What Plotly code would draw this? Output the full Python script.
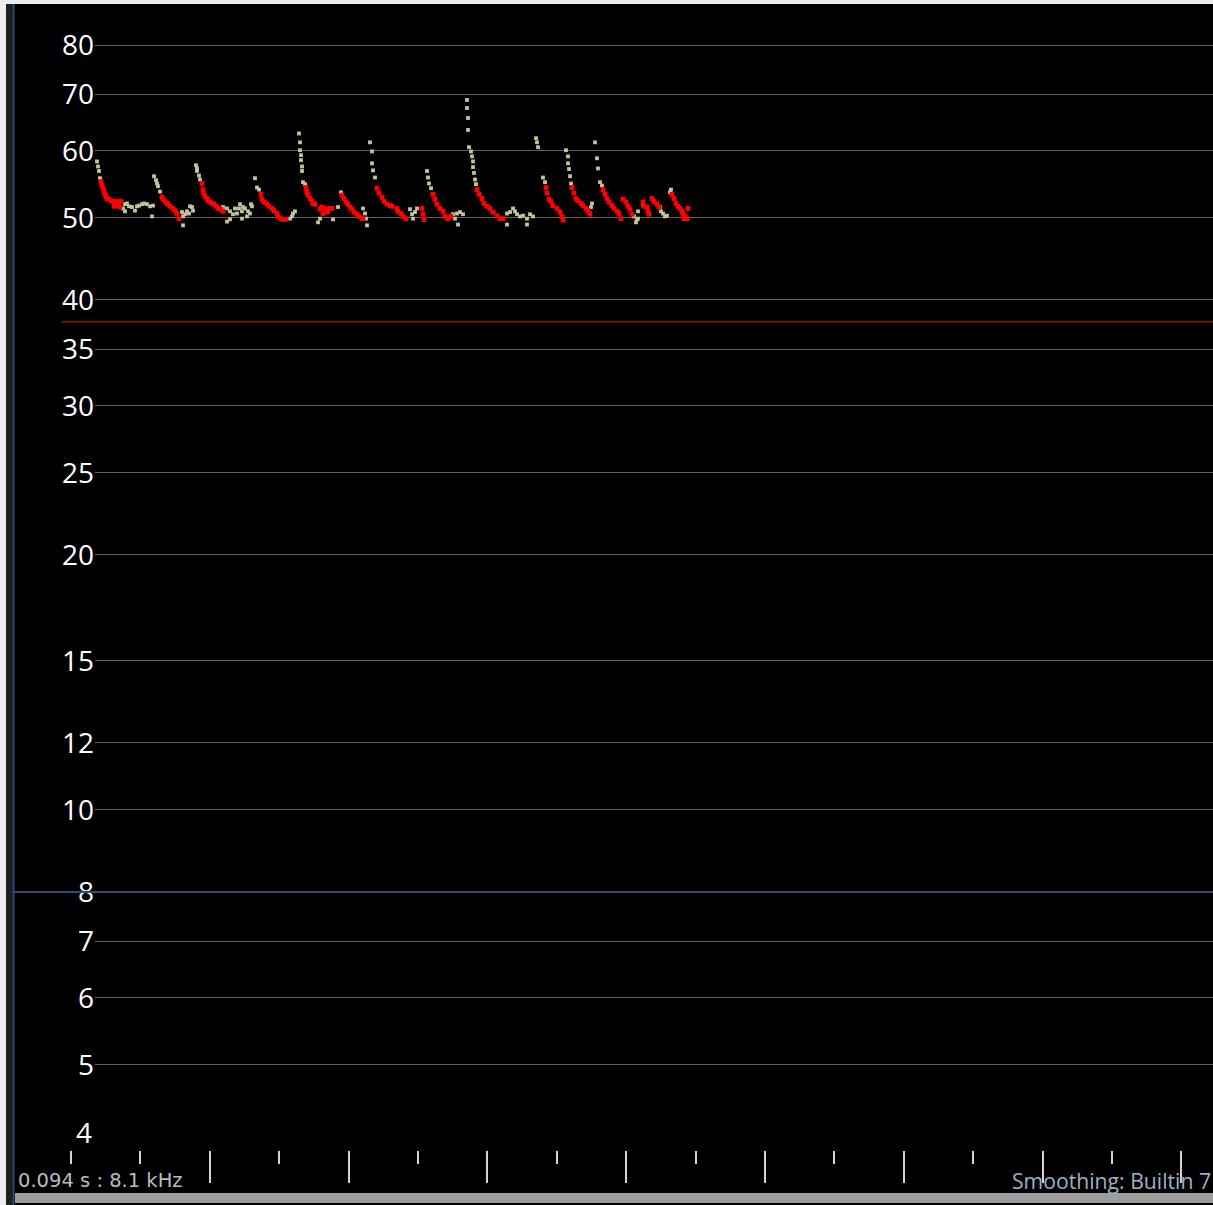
import plotly.graph_objects as go

# ---- pitch-track samples: time (ms from first ruler tick) and value ----
tan_t = [26, 27, 28, 29, 52, 54, 54, 56, 58, 61, 64, 66, 68, 71, 73, 76, 79, 81, 82,
         83, 85, 86, 87, 89, 111, 112, 114, 116, 118, 121, 122, 112, 119,
         125, 126, 126, 128, 129, 152, 156, 156, 159, 162, 164, 166, 168, 171, 172, 169, 174, 177, 180, 176, 171, 159, 179, 181,
         184, 186, 188, 219, 221, 222, 224,
         228, 229, 229, 230, 230, 231, 231, 232, 234, 247, 249, 262, 267,
         270, 294, 295, 296, 292,
         299, 301, 301, 302, 304, 339, 341, 344, 346, 342,
         356, 357, 358, 360, 382, 386, 389, 392, 387, 384,
         396, 396, 397, 397, 398, 400, 401, 402, 402, 403, 404, 405, 436, 439, 442, 446, 449, 452, 456, 459, 462, 456, 436, 444,
         465, 466, 467, 472, 474,
         495, 497, 497, 498, 499, 500, 521, 520,
         524, 526, 527, 529, 531,
         563, 566, 567, 567, 565,
         572,
         589, 590, 592, 594, 596,
         600, 599]
tan_v = [58.3, 57.5, 56.8, 55.7, 51.3, 51.9, 50.9, 52.0, 51.6, 51.5, 51.0, 51.6, 51.7, 51.9, 52.0, 51.9, 51.6, 50.2, 51.7,
         56.0, 55.4, 54.9, 54.5, 53.7, 50.8, 50.2, 50.5, 50.9, 50.6, 51.5, 51.0, 49.0, 51.6,
         57.7, 57.2, 56.8, 56.1, 55.5, 51.5, 51.3, 49.5, 50.9, 50.5, 51.3, 50.6, 51.3, 50.9, 51.5, 51.9, 51.3, 50.9, 51.9, 50.2, 49.9, 49.8, 50.6, 51.6,
         55.7, 54.3, 54.0, 49.9, 50.2, 50.6, 50.9,
         62.9, 61.4, 60.1, 59.3, 58.5, 57.5, 56.8, 55.1, 54.8, 49.4, 49.9, 49.8, 51.5,
         53.6, 50.6, 49.9, 49.0, 51.3,
         61.4, 59.9, 58.0, 56.9, 55.8, 51.2, 50.5, 50.8, 51.3, 49.9,
         56.8, 55.8, 54.9, 54.2, 50.5, 50.6, 50.8, 50.5, 49.1, 49.9,
         68.9, 67.4, 65.6, 63.5, 60.6, 59.9, 59.1, 58.3, 57.4, 56.5, 55.5, 54.8, 50.6, 50.8, 51.3, 50.5, 50.2, 50.3, 49.9, 50.5, 50.2, 49.1, 49.1, 50.9,
         62.1, 61.4, 60.6, 55.8, 55.1,
         60.1, 59.1, 58.0, 57.1, 56.0, 54.9, 52.0, 51.5,
         61.4, 58.8, 57.2, 55.1, 54.6,
         50.2, 49.8, 49.9, 50.9, 49.4,
         51.9,
         51.5, 50.9, 50.6, 50.2, 50.3,
         54.0, 53.6]

red_t = [30, 31, 32, 33, 34, 35, 36, 38, 40, 42, 44, 46, 48, 50, 45, 47, 49, 43,
         91, 92, 94, 96, 97, 99, 102, 104, 106, 108,
         131, 132, 132.5, 134, 136, 137, 139, 141, 143, 145, 147, 150, 152,
         190, 191, 193, 196, 198, 201, 203, 206, 207, 210, 212, 215,
         235, 236, 237, 239, 241, 242, 244, 249, 251, 254, 257, 259, 261, 252, 256,
         271, 273, 275, 277, 279, 281, 283, 286, 288, 291, 292,
         306, 308, 311, 313, 316, 319, 321, 326, 327, 330, 332, 335, 351, 352, 353,
         362, 364, 366, 369, 372, 374, 377, 380,
         406, 408, 411, 413, 416, 419, 422, 426, 429, 432,
         475, 476, 478, 480, 482, 486, 489, 491, 492,
         501, 503, 505, 507, 510, 512, 515, 517, 519,
         532, 534, 536, 538, 541, 543, 546, 548, 550,
         552, 555, 557, 559, 561,
         572, 573, 576, 577, 578,
         581, 583, 586, 588,
         601, 603, 605, 607, 609, 611, 612, 614, 616, 617, 613]
red_v = [55.2, 54.6, 54.2, 53.7, 53.3, 53.0, 52.7, 52.6, 52.4, 52.3, 52.2, 52.2, 52.3, 52.3, 51.9, 51.7, 51.5, 51.6,
         52.9, 52.6, 52.3, 52.0, 51.9, 51.6, 51.3, 51.0, 50.6, 49.9,
         54.9, 54.0, 53.5, 53.0, 52.7, 52.4, 52.2, 52.0, 51.9, 51.6, 51.3, 51.2, 50.9,
         53.3, 52.6, 52.2, 51.9, 51.6, 51.3, 51.0, 50.6, 50.2, 49.9, 49.8, 49.8,
         54.3, 53.6, 53.2, 52.7, 52.4, 52.0, 51.9, 51.2, 51.5, 51.3, 50.9, 51.3, 51.3, 50.6, 50.8,
         53.2, 52.7, 52.2, 51.9, 51.5, 51.2, 50.8, 50.5, 50.2, 49.9, 49.9,
         54.2, 53.5, 52.9, 52.3, 51.9, 51.7, 51.6, 51.3, 50.9, 50.6, 50.2, 49.9, 51.3, 50.5, 49.8,
         53.3, 52.6, 51.9, 51.3, 50.9, 50.2, 49.9, 50.2,
         54.0, 53.3, 52.7, 52.0, 51.6, 51.3, 50.8, 50.3, 49.9, 49.9,
         54.3, 53.5, 52.6, 52.3, 51.7, 51.3, 50.8, 50.2, 49.7,
         54.3, 53.5, 52.7, 52.4, 52.0, 51.7, 51.3, 51.0, 50.5,
         54.0, 53.3, 52.7, 52.2, 51.7, 51.3, 50.9, 50.6, 49.9,
         52.6, 52.2, 51.6, 51.2, 50.5,
         52.2, 51.6, 51.5, 50.9, 50.5,
         52.7, 52.3, 51.9, 51.5,
         53.3, 52.7, 52.0, 51.6, 51.3, 50.9, 50.5, 50.2, 49.9, 51.3, 49.9]

# y-axis grid values and labels
y_ticks = [5, 6, 7, 8, 10, 12, 15, 20, 25, 30, 35, 40, 50, 60, 70, 80]
y_labels = [str(v) for v in y_ticks]
bottom_label = "4"

threshold_level = 37.7   # dark red reference line
marker_level = 8         # blue cursor line

cursor_readout = "0.094 s : 8.1 kHz"
smoothing_text = "Smoothing: Builtin 7"

# ---- geometry (pixels) ----
W, H = 1213, 1205
L, R, T, B = 14, 0, 4, 55
PW, PH = W - L - R, H - T - B


def fx(p):
    return (p - L) / PW


def fy(p):
    return (H - B - p) / PH


TAN = "#c6c49c"
RED = "#ff0000"
GRID = "#5e5e5e"

fig = go.Figure()

fig.add_trace(go.Scatter(
    x=tan_t, y=tan_v, mode="markers",
    marker=dict(symbol="square", size=3.8, color=TAN, line=dict(width=0)),
    showlegend=False, hoverinfo="skip"))
fig.add_trace(go.Scatter(
    x=red_t, y=red_v, mode="markers",
    marker=dict(symbol="square", size=4.8, color=RED, line=dict(width=0)),
    showlegend=False, hoverinfo="skip"))
# empty trace carrying the time ruler
fig.add_trace(go.Scatter(x=[None], y=[None], xaxis="x2", yaxis="y2",
                         showlegend=False, hoverinfo="skip"))

step = 69.4
fig.update_layout(
    width=W, height=H,
    margin=dict(l=L, r=R, t=T, b=B, pad=0),
    paper_bgcolor="#000000", plot_bgcolor="rgba(0,0,0,0)",
    xaxis=dict(domain=[fx(95), 1], range=[95 - 71, W - 71],
               showgrid=False, zeroline=False, showline=False,
               showticklabels=False, ticks=""),
    yaxis=dict(type="log", range=[0.59849, 1.9515], anchor="x",
               tickmode="array", tickvals=y_ticks, ticktext=y_labels,
               showgrid=True, gridcolor=GRID, gridwidth=1.3,
               zeroline=False, showline=False, ticks="",
               tickfont=dict(family="Open Sans", size=28, color="#ffffff")),
    xaxis2=dict(domain=[0, 1], range=[L - 71, W - 71], anchor="y2",
                showgrid=False, zeroline=False, showline=False,
                showticklabels=False,
                tickmode="array", tickvals=[2 * step * k for k in range(1, 9)],
                ticks="outside", ticklen=32, tickwidth=2, tickcolor="#d4d4d4",
                minor=dict(ticks="outside", tickmode="linear", tick0=0, dtick=step,
                           ticklen=13, tickwidth=2, tickcolor="#d4d4d4", showgrid=False)),
    yaxis2=dict(domain=[0, 1], range=[0, 1], anchor="x2",
                showgrid=False, zeroline=False, showline=False,
                showticklabels=False, ticks=""),
)

shapes = [
    # threshold and cursor lines
    dict(type="line", xref="paper", yref="y", x0=fx(62), x1=1,
         y0=threshold_level, y1=threshold_level, line=dict(color="#9a0c0c", width=1.5)),
    dict(type="line", xref="paper", yref="y", x0=fx(10), x1=1,
         y0=marker_level, y1=marker_level, line=dict(color="#2c4c7c", width=2)),
    # window frame
    dict(type="rect", xref="paper", yref="paper", x0=fx(0), x1=fx(6), y0=fy(H), y1=fy(0),
         fillcolor="#ececec", line=dict(width=0)),
    dict(type="rect", xref="paper", yref="paper", x0=fx(6), x1=fx(12.5), y0=fy(H), y1=fy(4),
         fillcolor="#1e1e1e", line=dict(width=0)),
    dict(type="rect", xref="paper", yref="paper", x0=fx(0), x1=fx(W), y0=fy(4), y1=fy(0),
         fillcolor="#ececec", line=dict(width=0)),
    dict(type="line", xref="paper", yref="paper", x0=fx(13.5), x1=fx(13.5), y0=fy(H), y1=fy(4),
         line=dict(color="#2c4c7c", width=2)),
    dict(type="rect", xref="paper", yref="paper", x0=fx(15), x1=fx(W), y0=fy(1203), y1=fy(1193),
         fillcolor="#9c9c9c", line=dict(width=0)),
]
fig.update_layout(shapes=shapes)

fig.add_annotation(xref="paper", yref="paper", x=fx(94), y=fy(1132),
                   xanchor="right", yanchor="middle", showarrow=False,
                   text=bottom_label,
                   font=dict(family="Open Sans", size=28, color="#ffffff"))
fig.add_annotation(xref="paper", yref="paper", x=fx(16), y=fy(1180),
                   xanchor="left", yanchor="middle", showarrow=False,
                   text=cursor_readout,
                   font=dict(family="DejaVu Sans", size=19.5, color="#bdbdbd"))
fig.add_annotation(xref="paper", yref="paper", x=fx(1010), y=fy(1180),
                   xanchor="left", yanchor="middle", showarrow=False,
                   text=smoothing_text,
                   font=dict(family="Open Sans", size=21.2, color="#9fb0c4"))

fig.write_html("out.html")
